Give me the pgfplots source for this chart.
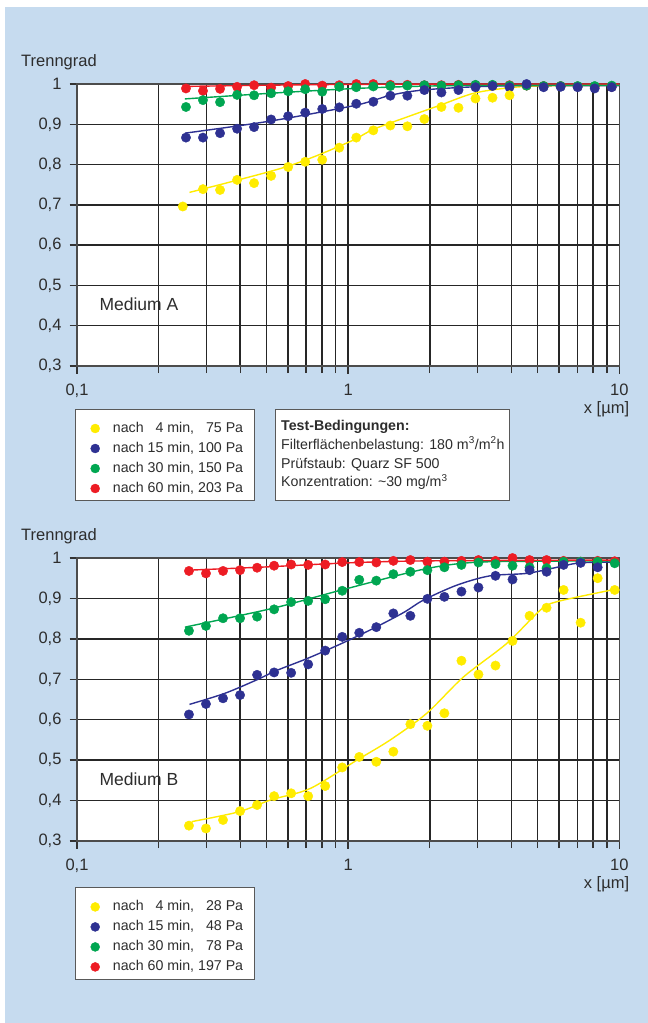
\documentclass[border=0pt]{standalone}
\usepackage{pgfplots}
\pgfplotsset{compat=1.18}
\usepackage{fontspec}
\setmainfont{Liberation Sans}
\definecolor{bgblue}{RGB}{198,219,239}
\definecolor{cyel}{RGB}{255,236,0}
\definecolor{cblue}{RGB}{46,49,146}
\definecolor{cgreen}{RGB}{0,166,81}
\definecolor{cred}{RGB}{237,28,36}
\definecolor{txt}{RGB}{45,45,45}
\begin{document}
\begin{tikzpicture}
\useasboundingbox (0pt,0pt) rectangle (648pt,-1023pt);
\fill[white] (0pt,0pt) rectangle (648pt,-1023pt);
\fill[bgblue] (5pt,-7pt) rectangle (648pt,-1023pt);
% boxes
\draw[black!65, line width=0.8pt, fill=white] (75.7pt,-409pt) rectangle (254.3pt,-500.7pt);
\draw[black!65, line width=0.8pt, fill=white] (275pt,-409pt) rectangle (509pt,-500.7pt);
\draw[black!65, line width=0.8pt, fill=white] (75.7pt,-887.3pt) rectangle (254.3pt,-979pt);

% ---------------- Medium A ----------------
\begin{axis}[at={(77pt,-366pt)}, anchor=south west,
    scale only axis, width=542.3pt, height=282pt,
    xmode=log, xmin=0.1, xmax=10, ymin=0.3, ymax=1,
    xtick={0.1,1,10}, xticklabels={{0,1},1,10},
    ytick={0.3,0.4,0.5,0.6,0.7,0.8,0.9,1},
    yticklabels={{0,3},{0,4},{0,5},{0,6},{0,7},{0,8},{0,9},1},
    grid=both,
    major grid style={black!85, line width=1.5pt},
    minor grid style={black!85, line width=1.5pt},
    axis line style={black!70, line width=1.5pt},
    tick pos=left, tick align=outside,
    major tick length=7.5pt, minor tick length=7pt,
    tick style={black!80, line width=1.4pt},
    axis background/.style={fill=white},
    clip=false,
    tick label style={font=\fontsize{16.5}{19}\selectfont, text=txt},
    yticklabel style={anchor=east, inner sep=0pt, xshift=-7.8pt},
    xticklabel style={anchor=base, inner sep=0pt, yshift=-22pt},
    reverse legend,
    legend cell align=left,
    legend image code/.code={\draw[#1, mark size=4.5pt] plot coordinates {(0pt,0pt)};},
    legend style={draw=none, fill=none, inner sep=0pt, at={(rel axis cs:0,0)}, anchor=north west,
      xshift=13.5pt, yshift=-52.3pt,
      font=\fontsize{14.2}{17}\selectfont, text=txt, column sep=13.2pt, row sep=0pt,
      nodes={inner sep=0pt, text height=13.5pt, text depth=6.5pt}}]
\addplot[cyel, line width=1.4pt, smooth, forget plot] coordinates {(0.26,0.731) (0.594,0.795) (1.0,0.855) (1.24,0.8875) (1.647,0.918) (2.185,0.9475) (2.9,0.977) (3.85,0.99) (5,0.995) (10,0.997)};
\addplot[cblue, line width=1.4pt, smooth, forget plot] coordinates {(0.25,0.878) (0.516,0.908) (1.07,0.9475) (1.43,0.972) (1.88,0.985) (2.9,0.993) (4.5,0.996) (10,0.996)};
\addplot[cgreen, line width=1.4pt, smooth, forget plot] coordinates {(0.25,0.963) (0.516,0.977) (1.07,0.989) (2,0.995) (4,0.997) (10,0.997)};
\addplot[cred, line width=1.4pt, smooth, forget plot] coordinates {(0.25,0.994) (0.5,0.997) (1,0.999) (3,1.0) (10,1.0)};
\addplot[only marks, mark=*, mark size=4.7pt, color=cred] coordinates {
(0.2523,0.989) (0.2915,0.983) (0.3370,0.988) (0.3895,0.993) (0.4499,0.997) (0.5200,0.991)
(0.6009,0.995) (0.6944,1.000) (0.8025,0.996) (0.9273,0.997) (1.0715,1.000) (1.2382,1.000)
(1.4311,0.998) (1.6535,0.998) (1.9107,0.997) (2.2080,0.997) (2.5517,0.998) (2.9486,0.997)
(3.4075,0.997) (3.9375,0.997) (4.5499,0.996) (5.2578,0.995) (6.0757,0.995) (7.0210,0.994)
(8.1128,0.993) (9.3756,0.993)};
\addlegendentry{nach 60 min, 203 Pa}
\addplot[only marks, mark=*, mark size=4.7pt, color=cgreen] coordinates {
(0.2523,0.943) (0.2915,0.960) (0.3370,0.955) (0.3895,0.973) (0.4499,0.972) (0.5200,0.977)
(0.6009,0.982) (0.6944,0.987) (0.8025,0.981) (0.9273,0.993) (1.0715,0.992) (1.2382,0.994)
(1.4311,0.995) (1.6535,0.996) (1.9107,0.997) (2.2080,0.996) (2.5517,0.997) (2.9486,0.998)
(3.4075,0.998) (3.9375,0.996) (4.5499,0.996) (5.2578,0.995) (6.0757,0.995) (7.0210,0.995)
(8.1128,0.995) (9.3756,0.996)};
\addlegendentry{nach 30 min, 150 Pa}
\addplot[only marks, mark=*, mark size=4.7pt, color=cblue] coordinates {
(0.2523,0.867) (0.2915,0.867) (0.3370,0.878) (0.3895,0.889) (0.4499,0.893) (0.5200,0.912)
(0.6009,0.920) (0.6944,0.929) (0.8025,0.938) (0.9273,0.942) (1.0715,0.951) (1.2382,0.956)
(1.4311,0.971) (1.6535,0.971) (1.9107,0.985) (2.2080,0.979) (2.5517,0.985) (2.9486,0.992)
(3.4075,0.995) (3.9375,0.992) (4.5499,1.000) (5.2578,0.992) (6.0757,0.993) (7.0210,0.992)
(8.1128,0.989) (9.3756,0.992)};
\addlegendentry{nach 15 min, 100 Pa}
\addplot[only marks, mark=*, mark size=4.7pt, color=cyel] coordinates {
(0.2455,0.696) (0.2915,0.739) (0.3370,0.737) (0.3895,0.762) (0.4499,0.754) (0.5200,0.772)
(0.6009,0.794) (0.6944,0.807) (0.8025,0.812) (0.9273,0.842) (1.0715,0.867) (1.2382,0.885)
(1.4311,0.897) (1.6535,0.895) (1.9107,0.913) (2.2080,0.943) (2.5517,0.941) (2.9486,0.964)
(3.4075,0.966) (3.9375,0.972)};
\addlegendentry{nach \hphantom{1}4 min, \hphantom{1}75 Pa}
\end{axis}

% ---------------- Medium B ----------------
\begin{axis}[at={(77pt,-841pt)}, anchor=south west,
    scale only axis, width=542.3pt, height=283pt,
    xmode=log, xmin=0.1, xmax=10, ymin=0.3, ymax=1,
    xtick={0.1,1,10}, xticklabels={{0,1},1,10},
    ytick={0.3,0.4,0.5,0.6,0.7,0.8,0.9,1},
    yticklabels={{0,3},{0,4},{0,5},{0,6},{0,7},{0,8},{0,9},1},
    grid=both,
    major grid style={black!85, line width=1.5pt},
    minor grid style={black!85, line width=1.5pt},
    axis line style={black!70, line width=1.5pt},
    tick pos=left, tick align=outside,
    major tick length=7.5pt, minor tick length=7pt,
    tick style={black!80, line width=1.4pt},
    axis background/.style={fill=white},
    clip=false,
    tick label style={font=\fontsize{16.5}{19}\selectfont, text=txt},
    yticklabel style={anchor=east, inner sep=0pt, xshift=-7.8pt},
    xticklabel style={anchor=base, inner sep=0pt, yshift=-22pt},
    reverse legend,
    legend cell align=left,
    legend image code/.code={\draw[#1, mark size=4.5pt] plot coordinates {(0pt,0pt)};},
    legend style={draw=none, fill=none, inner sep=0pt, at={(rel axis cs:0,0)}, anchor=north west,
      xshift=13.5pt, yshift=-55.7pt,
      font=\fontsize{14.2}{17}\selectfont, text=txt, column sep=13.2pt, row sep=0pt,
      nodes={inner sep=0pt, text height=13.5pt, text depth=6.5pt}}]
\addplot[cyel, line width=1.4pt, smooth, forget plot] coordinates {(0.265,0.348) (0.394,0.372) (0.52,0.402) (0.725,0.43) (1.077,0.5) (1.43,0.55) (1.95,0.616) (2.665,0.706) (3.85,0.789) (5.11,0.871) (5.89,0.892) (9.4,0.921)};
\addplot[cblue, line width=1.4pt, smooth, forget plot] coordinates {(0.26,0.638) (0.35,0.665) (0.458,0.698) (0.546,0.722) (0.71,0.752) (0.935,0.787) (1.24,0.826) (1.6,0.865) (1.897,0.896) (2.52,0.933) (3.34,0.956) (4.56,0.962) (5.89,0.977) (7.18,0.988) (10,0.99)};
\addplot[cgreen, line width=1.4pt, smooth, forget plot] coordinates {(0.25,0.829) (0.53,0.876) (0.935,0.92) (1.89,0.972) (2.88,0.989) (5,0.992) (10,0.993)};
\addplot[cred, line width=1.4pt, smooth, forget plot] coordinates {(0.26,0.970) (0.5,0.978) (1,0.988) (2,0.993) (10,0.995)};
\addplot[only marks, mark=*, mark size=4.7pt, color=cred] coordinates {
(0.2588,0.968) (0.2990,0.962) (0.3456,0.968) (0.3995,0.970) (0.4615,0.976) (0.5333,0.981)
(0.6163,0.984) (0.7122,0.983) (0.8230,0.984) (0.9510,0.990) (1.0990,0.990) (1.2701,0.989)
(1.4678,0.993) (1.6963,0.995) (1.9601,0.991) (2.2646,0.991) (2.6170,0.993) (3.0241,0.995)
(3.4945,0.993) (4.0383,1.000) (4.6666,0.995) (5.3926,0.995) (6.2316,0.993) (7.2012,0.991)
(8.3218,0.993) (9.6161,0.992)};
\addlegendentry{nach 60 min, 197 Pa}
\addplot[only marks, mark=*, mark size=4.7pt, color=cgreen] coordinates {
(0.2588,0.820) (0.2990,0.832) (0.3456,0.851) (0.3995,0.851) (0.4615,0.855) (0.5333,0.873)
(0.6163,0.891) (0.7122,0.894) (0.8230,0.898) (0.9510,0.919) (1.0990,0.946) (1.2701,0.944)
(1.4678,0.960) (1.6963,0.966) (1.9601,0.970) (2.2646,0.977) (2.6170,0.983) (3.0241,0.989)
(3.4945,0.985) (4.0383,0.981) (4.6666,0.977) (5.3926,0.975) (6.2316,0.991) (7.2012,0.991)
(8.3218,0.991) (9.6161,0.987)};
\addlegendentry{nach 30 min, \hphantom{1}78 Pa}
\addplot[only marks, mark=*, mark size=4.7pt, color=cblue] coordinates {
(0.2588,0.613) (0.2990,0.639) (0.3456,0.653) (0.3995,0.661) (0.4615,0.711) (0.5333,0.717)
(0.6163,0.716) (0.7122,0.737) (0.8230,0.771) (0.9510,0.805) (1.0990,0.815) (1.2701,0.829)
(1.4678,0.863) (1.6963,0.857) (1.9601,0.899) (2.2646,0.904) (2.6170,0.917) (3.0241,0.927)
(3.4945,0.956) (4.0383,0.947) (4.6666,0.970) (5.3926,0.966) (6.2316,0.983) (7.2012,0.988)
(8.3218,0.977)};
\addlegendentry{nach 15 min, \hphantom{1}48 Pa}
\addplot[only marks, mark=*, mark size=4.7pt, color=cyel] coordinates {
(0.2588,0.338) (0.2990,0.331) (0.3456,0.352) (0.3995,0.374) (0.4615,0.389) (0.5333,0.411)
(0.6163,0.418) (0.7122,0.411) (0.8230,0.436) (0.9510,0.482) (1.0990,0.508) (1.2701,0.496)
(1.4678,0.521) (1.6963,0.589) (1.9601,0.585) (2.2646,0.616) (2.6170,0.746) (3.0241,0.712)
(3.4945,0.734) (4.0383,0.795) (4.6666,0.857) (5.3926,0.877) (6.2316,0.921) (7.2012,0.840)
(8.3218,0.950) (9.6161,0.921)};
\addlegendentry{nach \hphantom{1}4 min, \hphantom{1}28 Pa}
\end{axis}

% ---------------- texts ----------------
\begin{scope}[every node/.style={inner sep=0pt, text=txt}]
\node[anchor=base west, font=\fontsize{16.5}{19}\selectfont] at (21pt,-66.7pt) {Trenngrad};
\node[anchor=base west, font=\fontsize{16.5}{19}\selectfont] at (21pt,-540.7pt) {Trenngrad};
\node[anchor=base west, font=\fontsize{17.5}{20}\selectfont] at (99.3pt,-310pt) {Medium A};
\node[anchor=base west, font=\fontsize{17.5}{20}\selectfont] at (99.3pt,-785pt) {Medium B};
\node[anchor=base east, font=\fontsize{16.5}{19}\selectfont] at (629.3pt,-413pt) {x [µm]};
\node[anchor=base east, font=\fontsize{16.5}{19}\selectfont] at (629.3pt,-888pt) {x [µm]};
\node[anchor=base west, font=\fontsize{14.2}{17}\selectfont\bfseries] at (281pt,-430.7pt) {Test-Bedingungen:};
\node[anchor=base west, font=\fontsize{14.2}{17}\selectfont] at (281pt,-449pt) {Filterflächenbelastung: 180 m\textsuperscript{3}/m\textsuperscript{2}h};
\node[anchor=base west, font=\fontsize{14.2}{17}\selectfont] at (281pt,-468.3pt) {Prüfstaub: Quarz SF 500};
\node[anchor=base west, font=\fontsize{14.2}{17}\selectfont] at (281pt,-486.7pt) {Konzentration: \textasciitilde30 mg/m\textsuperscript{3}};
\end{scope}
\end{tikzpicture}
\end{document}
